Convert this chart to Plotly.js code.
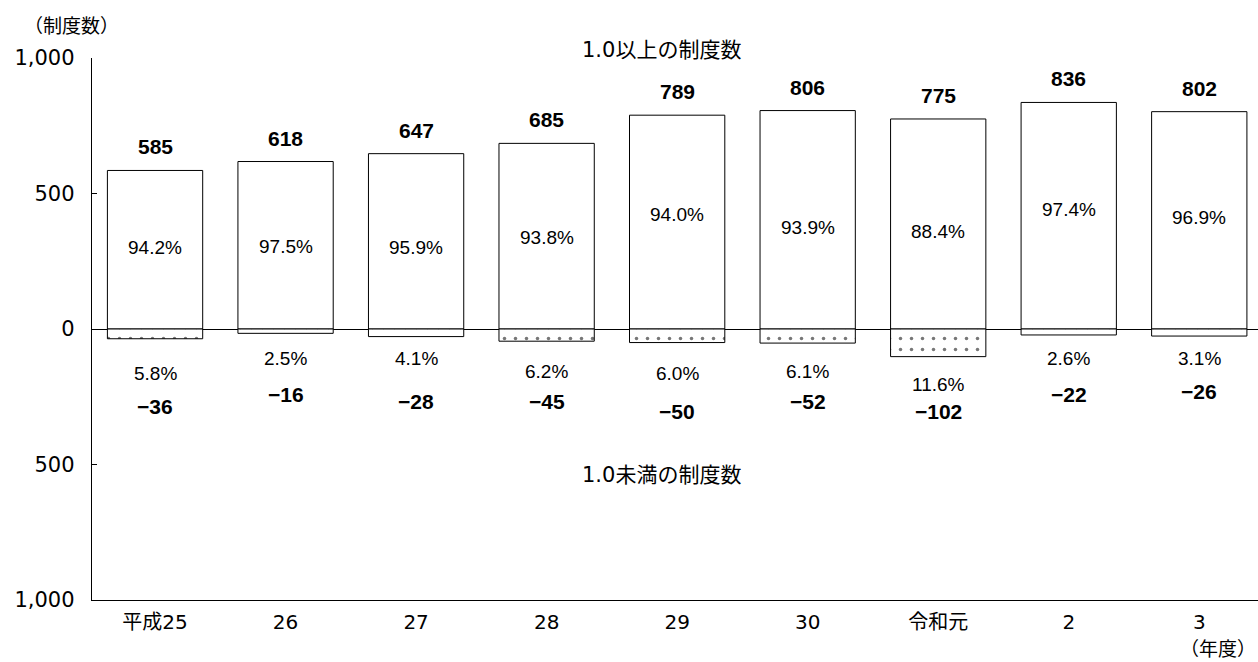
<!DOCTYPE html>
<html>
<head>
<meta charset="utf-8">
<script src="https://cdn.plot.ly/plotly-3.0.1.min.js"></script>
<style>html,body{margin:0;padding:0;background:#fff;}#chart{width:1258px;height:662px;}</style>
</head>
<body>
<div id="chart"></div>
<script>
// ---- data ----
const categories = ["平成25", "26", "27", "28", "29", "30", "令和元", "2", "3"];
const aboveCounts = [585, 618, 647, 685, 789, 806, 775, 836, 802];
const belowCounts = [-36, -16, -28, -45, -50, -52, -102, -22, -26];
const abovePct = ["94.2%", "97.5%", "95.9%", "93.8%", "94.0%", "93.9%", "88.4%", "97.4%", "96.9%"];
const belowPct = ["5.8%", "2.5%", "4.1%", "6.2%", "6.0%", "6.1%", "11.6%", "2.6%", "3.1%"];
const yTickVals = [-1000, -500, 0, 500, 1000];
const yTickText = ["1,000", "500", "0", "500", "1,000"];

// ---- label placement (layout only, in axis units) ----
const abovePctPos = [302, 306, 302, 339, 424, 376, 361, 442, 413];
const belowPctPos = [-166, -107, -110, -158, -166, -158, -206, -110, -110];
const belowValPos = [-287, -243, -269, -269, -306, -269, -306, -243, -232];

const jp = '"DejaVu Sans", "Noto Sans CJK JP", sans-serif';
const cjk = '"Noto Sans CJK JP", sans-serif';
const num = '"Liberation Sans", Arial, sans-serif';

const traces = [
  {
    type: 'bar', x: categories, y: aboveCounts, width: 0.73,
    marker: {color: '#ffffff', line: {color: '#000000', width: 1}},
    hoverinfo: 'skip', showlegend: false
  },
  {
    type: 'bar', x: categories, y: belowCounts, width: 0.73,
    marker: {color: '#ffffff', line: {color: '#000000', width: 1},
      pattern: {shape: '.', fgcolor: '#777777', bgcolor: '#ffffff', size: 11, solidity: 0.08}},
    hoverinfo: 'skip', showlegend: false
  }
];

const annotations = [];
categories.forEach((c, i) => {
  annotations.push({x: i, y: aboveCounts[i], xref: 'x', yref: 'y', text: '<b>' + aboveCounts[i] + '</b>',
    showarrow: false, yanchor: 'bottom', yshift: 10, font: {family: num, size: 21, color: '#000'}});
  annotations.push({x: i, y: abovePctPos[i], xref: 'x', yref: 'y', text: abovePct[i],
    showarrow: false, font: {family: num, size: 19, color: '#000'}});
  annotations.push({x: i, y: belowPctPos[i], xref: 'x', yref: 'y', text: belowPct[i],
    showarrow: false, font: {family: num, size: 19, color: '#000'}});
  annotations.push({x: i, y: belowValPos[i], xref: 'x', yref: 'y', text: '<b>\u2212' + Math.abs(belowCounts[i]) + '</b>',
    showarrow: false, font: {family: num, size: 21, color: '#000'}});
});

annotations.push({xref: 'paper', yref: 'paper', x: 0.488, y: 1, yanchor: 'bottom', yshift: -6,
  text: '1.0以上の制度数', showarrow: false, font: {family: jp, size: 21, color: '#000'}});
annotations.push({xref: 'paper', yref: 'y', x: 0.488, y: -537,
  text: '1.0未満の制度数', showarrow: false, font: {family: jp, size: 21, color: '#000'}});
annotations.push({xref: 'paper', yref: 'paper', x: -0.018, y: 1, xanchor: 'center', yanchor: 'bottom', yshift: 18,
  text: '（制度数）', showarrow: false, font: {family: cjk, size: 19, color: '#000'}});
annotations.push({xref: 'paper', yref: 'paper', x: 1, y: 0, xanchor: 'right', yanchor: 'top', yshift: -32,
  text: '（年度）', showarrow: false, font: {family: cjk, size: 19, color: '#000'}});

const layout = {
  width: 1258, height: 662,
  margin: {l: 92, r: 0, t: 58, b: 62},
  paper_bgcolor: '#ffffff', plot_bgcolor: '#ffffff',
  barmode: 'relative',
  font: {family: jp, color: '#000'},
  xaxis: {
    type: 'category', range: [-0.483, 8.45],
    showline: true, linecolor: '#000', linewidth: 1.3,
    showgrid: false, zeroline: false, ticks: '',
    tickfont: {family: jp, size: 20, color: '#000'}, ticklabelstandoff: 4
  },
  yaxis: {
    range: [-1000, 1000], tickvals: yTickVals, ticktext: yTickText,
    showline: true, linecolor: '#000', linewidth: 1.3,
    showgrid: false, zeroline: true, zerolinecolor: '#000', zerolinewidth: 1,
    ticks: 'inside', ticklen: 5, tickcolor: '#000',
    tickfont: {family: jp, size: 21, color: '#000'}, ticklabelstandoff: 12
  },
  annotations: annotations
};

Plotly.newPlot('chart', traces, layout, {displayModeBar: false, staticPlot: true});
</script>
</body>
</html>
